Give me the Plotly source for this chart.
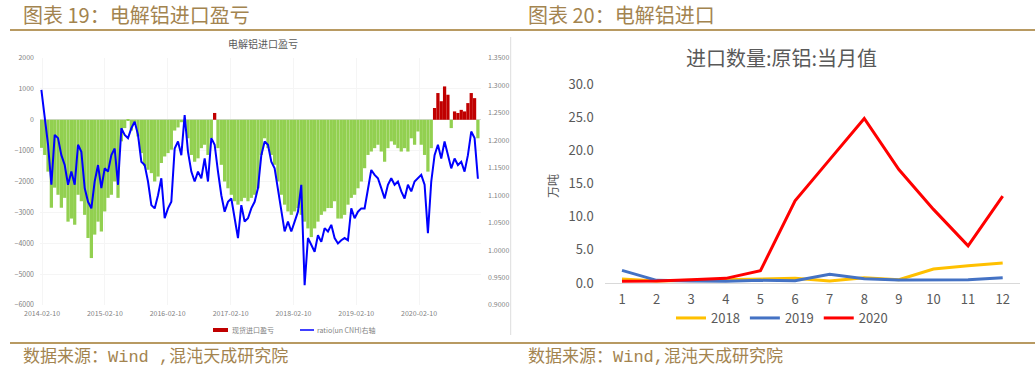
import plotly.graph_objects as go
import pandas as pd

# ---------------- data: left chart (electrolytic aluminium import profit/loss) ----------------
pnl = [
    -910, -1140, -1680, -2850, -2200, -2430, -2850, -2530, -3300, -3200,
    -3400, -2430, -2640, -3080, -3830, -4480, -3720, -3300, -3620, -2970,
    -2530, -2430, -2000, -2530, -700, -270, -30, -350, -100, -540,
    -1080, -1500, -1620, -1730, -2000, -1840, -1400, -1190, -1080, -970,
    -350, -250, -80, -100,
    -600, -1140, -1360, -1250, -920, -810, -1140, -600, 220, -920,
    -1460, -2000, -2220, -2430, -2640, -2750, -2640, -2530, -2640, -2530,
    -2430, -2220, -1140, -600, -920, -1140, -1460, -2000, -2430, -2750,
    -2970, -3080, -2970, -2860, -3080, -3300, -3520, -3800, -3520, -3300,
    -3080, -2970, -2860, -2860, -2640,
    -3200, -3200, -3080, -2750, -2530, -2430, -2220, -2000, -1570, -1140,
    -1030, -920, -810, -1030, -1360, -920, -700, -810, -920, -1030,
    -920, -1030, -600, -810, -380, -810, -1140, -1680, -920, 380,
    865, 600, 1080, 810, -270, 270, 220, 320, 270, 540,
    865, 700, -600,
]
ratio = [
    1.292, 1.240, 1.192, 1.119, 1.210, 1.204, 1.173, 1.155, 1.119, 1.143,
    1.119, 1.192, 1.179, 1.113, 1.088, 1.076, 1.125, 1.155, 1.113, 1.149,
    1.143, 1.173, 1.185, 1.119, 1.222, 1.210, 1.204, 1.222, 1.234, 1.210,
    1.161, 1.155, 1.125, 1.082, 1.076, 1.100, 1.131, 1.058, 1.076, 1.088,
    1.185, 1.198, 1.173, 1.246,
    1.179, 1.143, 1.125, 1.143, 1.131, 1.167, 1.125, 1.204, 1.192, 1.143,
    1.100, 1.070, 1.088, 1.094, 1.058, 1.022, 1.082, 1.052, 1.058, 1.076,
    1.088, 1.113, 1.173, 1.198, 1.192, 1.161, 1.149, 1.113, 1.076, 1.034,
    1.052, 1.034, 1.052, 1.070, 1.119, 0.936, 1.022, 1.009, 0.997, 1.027,
    1.015, 1.040, 1.034, 1.046, 1.022,
    1.012, 1.018, 1.022, 1.018, 1.076, 1.058, 1.070, 1.076, 1.076, 1.113,
    1.146, 1.137, 1.131, 1.113, 1.094, 1.119, 1.131, 1.119, 1.125, 1.107,
    1.094, 1.119, 1.107, 1.125, 1.131, 1.137, 1.119, 1.031, 1.125, 1.173,
    1.192, 1.167, 1.198, 1.173, 1.149, 1.167, 1.155, 1.161, 1.143, 1.173,
    1.216, 1.204, 1.130,
]
date_start, date_end = "2014-02-06", "2021-01-17"
date_ticks = ["2014-02-10", "2015-02-10", "2016-02-10", "2017-02-10",
              "2018-02-10", "2019-02-10", "2020-02-10"]

# ---------------- data: right chart (monthly primary aluminium imports, 10k t) ----------------
months = list(range(1, 13))
imp_2018 = [0.6, 0.3, 0.4, 0.5, 0.5, 0.7, 0.3, 0.8, 0.5, 2.1, 2.6, 3.0]
imp_2019 = [1.9, 0.4, 0.3, 0.25, 0.4, 0.35, 1.3, 0.65, 0.45, 0.45, 0.5, 0.8]
imp_2020 = [0.25, 0.3, 0.5, 0.7, 1.85, 12.4, 18.6, 24.8, 17.1, 11.1, 5.6, 13.1]

# ---------------- layout helpers ----------------
W, H = 1035, 373
def px(x):
    return x / W
def py(y):
    return (H - y) / H

GOLD = "#A3844F"
LINE_GOLD = "#B89A62"
CJK = "Noto Sans CJK SC"

dates = pd.date_range(start=date_start, end=date_end, periods=len(pnl))
pos = [v if v > 0 else None for v in pnl]
neg = [v if v <= 0 else None for v in pnl]

fig = go.Figure()
fig.add_trace(go.Bar(x=dates, y=neg, marker=dict(color="#92D050", line=dict(width=0)),
                     xaxis="x", yaxis="y", showlegend=False))
fig.add_trace(go.Bar(x=dates, y=pos, marker=dict(color="#C00000", line=dict(width=0)),
                     xaxis="x", yaxis="y", showlegend=False, name="现货进口盈亏"))
fig.add_trace(go.Scatter(x=dates, y=ratio, mode="lines", line=dict(color="#0000FF", width=2),
                         xaxis="x", yaxis="y2", showlegend=False, name="ratio(un CNH)右轴"))

for name, vals, col in [("2018", imp_2018, "#FFC000"), ("2019", imp_2019, "#4472C4"),
                        ("2020", imp_2020, "#FF0000")]:
    fig.add_trace(go.Scatter(x=months, y=vals, mode="lines", name=name,
                             line=dict(color=col, width=3), xaxis="x3", yaxis="y3"))

tickfont_small = dict(family=CJK, size=7, color="#7F7F7F")
fig.update_layout(
    width=W, height=H, margin=dict(l=0, r=0, t=0, b=0, autoexpand=False),
    paper_bgcolor="white", plot_bgcolor="white",
    barmode="overlay", bargap=0.02,
    xaxis=dict(domain=[px(40), px(481)], type="date",
               range=["2014-01-29", "2021-02-04"],
               tickvals=date_ticks, ticktext=date_ticks, tickfont=tickfont_small,
               showgrid=True, gridcolor="#F5F5F5", zeroline=False, showline=False,
               ticks="", ticklabelstandoff=3, anchor="y", automargin=False),
    yaxis=dict(domain=[py(305), py(58)], range=[-6000, 2000], dtick=1000,
               tickfont=tickfont_small, showgrid=True, gridcolor="#F5F5F5",
               zeroline=True, zerolinecolor="#D9D9D9", zerolinewidth=1,
               ticks="", ticklabelstandoff=5, anchor="x", automargin=False),
    yaxis2=dict(domain=[py(305), py(58)], range=[0.9, 1.35], overlaying="y", side="right",
                tickvals=[0.9, 0.95, 1.0, 1.05, 1.1, 1.15, 1.2, 1.25, 1.3, 1.35],
                tickformat=".4f", tickfont=tickfont_small, showgrid=False,
                zeroline=False, ticks="", ticklabelstandoff=6, anchor="x", automargin=False),
    xaxis3=dict(domain=[px(604.7), px(1020)], range=[0.5, 12.5], tickvals=months,
                tickfont=dict(family=CJK, size=13, color="#595959"),
                showgrid=False, zeroline=False, showline=True, linecolor="#D9D9D9",
                linewidth=1, ticks="", ticklabelstandoff=4, anchor="y3", automargin=False),
    yaxis3=dict(domain=[py(283), py(84)], range=[0, 30], tickvals=[0, 5, 10, 15, 20, 25, 30],
                tickformat=".1f", tickfont=dict(family=CJK, size=13, color="#595959"),
                showgrid=False, zeroline=False, ticks="", ticklabelstandoff=10, anchor="x3",
                automargin=False),
    legend=dict(orientation="h", x=px(782), xanchor="center", y=py(318), yanchor="middle",
                font=dict(family=CJK, size=13, color="#595959"), itemwidth=30,
                bgcolor="rgba(0,0,0,0)"),
    showlegend=True,
)

annotations = [
    dict(text="图表 19：电解铝进口盈亏", x=px(21), y=py(14), xanchor="left", yanchor="middle",
         font=dict(family=CJK, size=20, color=GOLD)),
    dict(text="图表 20：电解铝进口", x=px(526), y=py(14), xanchor="left", yanchor="middle",
         font=dict(family=CJK, size=20, color=GOLD)),
    dict(text="数据来源：Wind ,混沌天成研究院", x=px(21), y=py(357), xanchor="left", yanchor="middle",
         font=dict(family="Liberation Mono, " + CJK, size=17, color=GOLD)),
    dict(text="数据来源：Wind,混沌天成研究院", x=px(526), y=py(357), xanchor="left", yanchor="middle",
         font=dict(family="Liberation Mono, " + CJK, size=17, color=GOLD)),
    dict(text="电解铝进口盈亏", x=px(263), y=py(44), xanchor="center", yanchor="middle",
         font=dict(family=CJK, size=10, color="#595959")),
    dict(text="现货进口盈亏", x=px(230), y=py(330), xanchor="left", yanchor="middle",
         font=dict(family=CJK, size=7, color="#7F7F7F")),
    dict(text="ratio(un CNH)右轴", x=px(315), y=py(330), xanchor="left", yanchor="middle",
         font=dict(family=CJK, size=7, color="#7F7F7F")),
    dict(text="进口数量:原铝:当月值", x=px(781), y=py(57), xanchor="center", yanchor="middle",
         font=dict(family=CJK, size=20, color="#595959")),
    dict(text="万吨", x=px(552), y=py(186), xanchor="center", yanchor="middle", textangle=-90,
         font=dict(family=CJK, size=12, color="#595959")),
]
for a in annotations:
    a.update(xref="paper", yref="paper", showarrow=False)
fig.update_layout(annotations=annotations)

shapes = [
    dict(type="line", x0=px(10), x1=px(1035), y0=py(30), y1=py(30), line=dict(color=LINE_GOLD, width=2)),
    dict(type="line", x0=px(10), x1=px(1035), y0=py(343), y1=py(343), line=dict(color=LINE_GOLD, width=2)),
    dict(type="line", x0=px(510.7), x1=px(510.7), y0=py(37), y1=py(335), line=dict(color="#DDDDDD", width=1)),
    dict(type="rect", x0=px(213), x1=px(228), y0=py(332), y1=py(328), fillcolor="#C00000",
         line=dict(width=0)),
    dict(type="line", x0=px(300), x1=px(314), y0=py(330), y1=py(330), line=dict(color="#0000FF", width=1.5)),
]
for s in shapes:
    s.update(xref="paper", yref="paper")
fig.update_layout(shapes=shapes)

fig.write_html("out.html", config={"displayModeBar": False},
               post_script="document.body.style.margin='0';document.body.style.overflow='hidden';")
